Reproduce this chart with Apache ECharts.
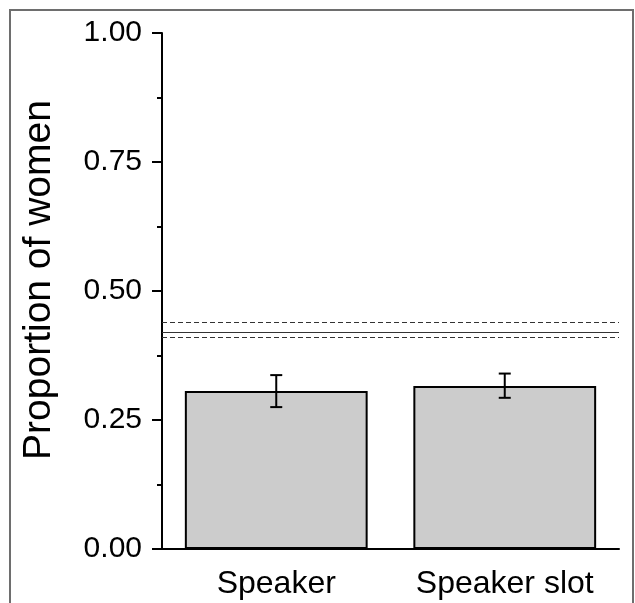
<!DOCTYPE html>
<html>
<head>
<meta charset="utf-8">
<style>
html, body { margin: 0; padding: 0; background: #fff; }
#chart { width: 635px; height: 603px; }
</style>
<script src="https://cdn.jsdelivr.net/npm/echarts@6/dist/echarts.min.js"></script>
</head>
<body>
<div id="chart"></div>
<script>
// data
const categories = ['Speaker', 'Speaker slot']
const means = [0.306, 0.316]
const errLow = [0.275, 0.293]
const errHigh = [0.337, 0.340]
const refMean = 0.423 // solid line
const refBand = [0.4386, 0.4095] // dashed lines
const yTicks = [0, 0.25, 0.5, 0.75, 1]

const font = 'Liberation Sans, Arial, sans-serif'
const chart = echarts.init(document.getElementById('chart'))

const errData = categories.map((c, i) => [i, errLow[i], errHigh[i]])

const option = {
  animation: false,
  backgroundColor: '#fff',
  graphic: [{
    type: 'rect',
    shape: { x: 10, y: 10, width: 623, height: 610 },
    style: { fill: 'none', stroke: '#6e6e6e', lineWidth: 2 },
    silent: true
  }],
  grid: { left: 162, right: 16, top: 33, bottom: 54, containLabel: false, outerBoundsMode: 'none' },
  xAxis: [
    {
      type: 'category',
      data: categories,
      position: 'bottom',
      axisLine: { lineStyle: { color: '#000', width: 2 } },
      axisTick: { alignWithLabel: true, length: 10, lineStyle: { color: '#000', width: 2 } },
      axisLabel: { interval: 0, hideOverlap: false, color: '#000', fontSize: 32, fontFamily: font, margin: 19 }
    },
    {
      type: 'category',
      data: categories,
      position: 'bottom',
      axisLine: { show: false },
      axisTick: { interval: 0, length: 5, lineStyle: { color: '#000', width: 2 } },
      axisLabel: { show: false }
    }
  ],
  yAxis: {
    type: 'value',
    min: yTicks[0],
    max: yTicks[yTicks.length - 1],
    interval: 0.25,
    name: 'Proportion of women',
    nameLocation: 'middle',
    nameGap: 103,
    nameTextStyle: { color: '#000', fontSize: 39, fontFamily: font, padding: [0, 0, 0, 22] },
    splitLine: { show: false },
    axisLine: { show: true, lineStyle: { color: '#000', width: 2 } },
    axisTick: { show: true, length: 10, lineStyle: { color: '#000', width: 2 } },
    minorTick: { show: true, splitNumber: 2, length: 5, lineStyle: { color: '#000', width: 2 } },
    axisLabel: {
      color: '#000', fontSize: 30, fontFamily: font, margin: 20,
      formatter: v => v.toFixed(2)
    }
  },
  series: [
    {
      type: 'bar',
      data: means,
      barWidth: '80%',
      itemStyle: { color: '#cccccc', borderColor: '#000', borderWidth: 2 },
      markLine: {
        silent: true,
        symbol: ['none', 'none'],
        label: { show: false },
        emphasis: { disabled: true },
        data: [
          { yAxis: refMean, lineStyle: { type: 'solid', color: '#333', width: 1.2 } },
          { yAxis: refBand[0], lineStyle: { type: [5, 3], color: '#333', width: 1.2 } },
          { yAxis: refBand[1], lineStyle: { type: [5, 3], color: '#333', width: 1.2 } }
        ]
      }
    },
    {
      type: 'custom',
      data: errData,
      z: 5,
      renderItem: (params, api) => {
        const lo = api.coord([api.value(0), api.value(1)])
        const hi = api.coord([api.value(0), api.value(2)])
        const w = 6
        const st = { stroke: '#000', lineWidth: 2 }
        return {
          type: 'group',
          children: [
            { type: 'line', shape: { x1: lo[0], y1: lo[1], x2: hi[0], y2: hi[1] }, style: st },
            { type: 'line', shape: { x1: hi[0] - w, y1: hi[1], x2: hi[0] + w, y2: hi[1] }, style: st },
            { type: 'line', shape: { x1: lo[0] - w, y1: lo[1], x2: lo[0] + w, y2: lo[1] }, style: st }
          ]
        }
      }
    }
  ]
}

chart.setOption(option)
window.addEventListener('resize', () => {
  chart.resize()
})
</script>
</body>
</html>
